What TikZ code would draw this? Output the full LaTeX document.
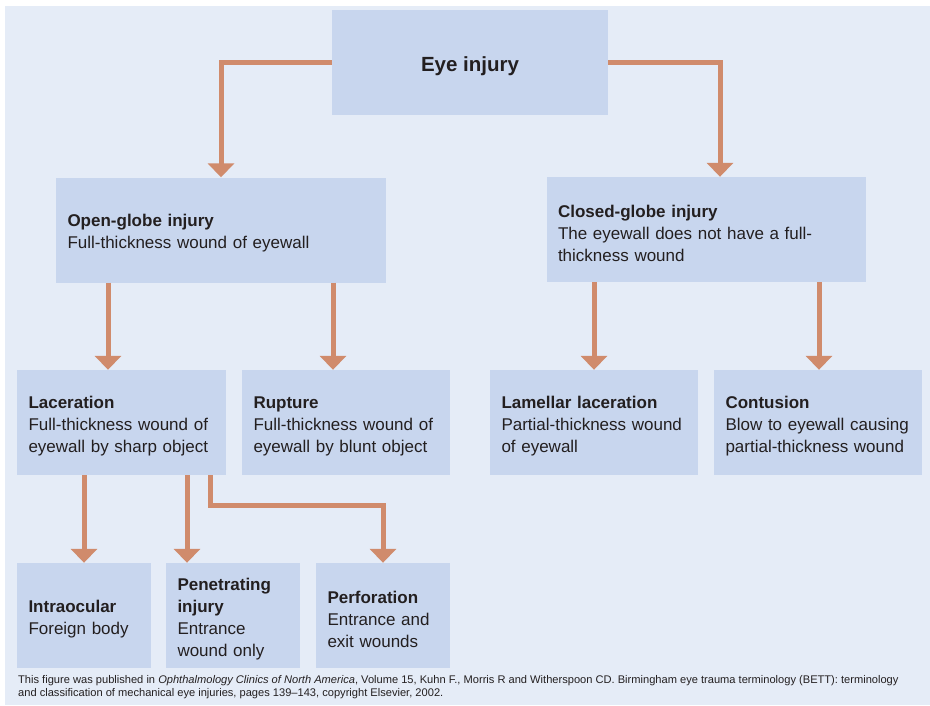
\documentclass[tikz,border=0pt]{standalone}
\usepackage{fontspec}
\setmainfont{Liberation Sans}
\usetikzlibrary{arrows.meta}
\definecolor{bgblue}{HTML}{E5ECF7}
\definecolor{boxblue}{HTML}{C8D6EE}
\definecolor{flowred}{HTML}{D08B6C}
\definecolor{inkgray}{HTML}{231F20}
\newcommand\boxtail{\par\vspace*{-7pt}}
\begin{document}
\begin{tikzpicture}[x=1pt,y=-1pt,
	box/.style={fill=boxblue,text=inkgray,inner xsep=11.5pt,inner ysep=0pt,minimum height=105pt,align=left,text width=#1,font=\fontsize{17}{22}\selectfont,execute at end node=\boxtail},
	flow/.style={draw=flowred,line width=5pt,-{Triangle[width=26pt,length=14pt]}}]
				\useasboundingbox (0,0) rectangle (930,705);
				\fill[bgblue] (5,6) rectangle (930,705);
				% boxes
				\node[fill=boxblue,text=inkgray,minimum width=276pt,minimum height=105pt,text height=22pt,text depth=4pt,font=\fontsize{20.5}{24}\selectfont\bfseries] (eye) at (470,62.5) {Eye injury};
				\node[box=307pt] (open) at (221,230) {\textbf{Open-globe injury}\\Full-thickness wound of eyewall};
				\node[box=296pt] (closed) at (706,229.5) {\textbf{Closed-globe injury}\\The eyewall does not have a full-\\thickness wound};
				\node[box=186pt] (lac) at (121.5,422.5) {\textbf{Laceration}\\Full-thickness wound of\\eyewall by sharp object};
				\node[box=185pt] (rup) at (346,422.5) {\textbf{Rupture}\\Full-thickness wound of\\eyewall by blunt object};
				\node[box=185pt] (lam) at (594,422.5) {\textbf{Lamellar laceration}\\Partial-thickness wound\\of eyewall};
				\node[box=185pt] (con) at (818,422.5) {\textbf{Contusion}\\Blow to eyewall causing\\partial-thickness wound};
				\node[box=111pt] (intra) at (84,615.5) {\textbf{Intraocular}\\Foreign body};
				\node[box=111pt] (pen) at (233,615.5) {\textbf{Penetrating}\\\textbf{injury}\\Entrance\\wound only};
				\node[box=111pt] (perf) at (383,615.5) {\textbf{Perforation}\\Entrance and\\exit wounds};
				% arrow columns
				\path (720,0) coordinate (R1);
				\path (108,0) coordinate (A1);
				\path (333,0) coordinate (A2);
				\path (594,0) coordinate (B1);
				\path (819,0) coordinate (B2);
				\path (84,0) coordinate (C1);
				\path (187,0) coordinate (C2);
				\path (210,505) coordinate (C3);
				\draw[flow] (eye.west) -| (open.north);
				\draw[flow] (eye.east) -| (R1 |- closed.north);
				\draw[flow] (open.south -| A1) -- (lac.north -| A1);
				\draw[flow] (open.south -| A2) -- (rup.north -| A2);
				\draw[flow] (closed.south -| B1) -- (lam.north -| B1);
				\draw[flow] (closed.south -| B2) -- (con.north -| B2);
				\draw[flow] (lac.south -| C1) -- (intra.north -| C1);
				\draw[flow] (lac.south -| C2) -- (pen.north -| C2);
				\draw[flow] (lac.south -| C3) -- (C3) -| (perf.north);
				% source
				\node[anchor=north west,inner sep=0pt,align=left,text=inkgray,font=\fontsize{11.1}{13}\selectfont] (note) at (18,675.5) {This figure was published in \textit{Ophthalmology Clinics of North America}, Volume 15, Kuhn F., Morris R and Witherspoon CD. Birmingham eye trauma terminology (BETT): terminology\\and classification of mechanical eye injuries, pages 139--143, copyright Elsevier, 2002.};
\end{tikzpicture}
\end{document}
